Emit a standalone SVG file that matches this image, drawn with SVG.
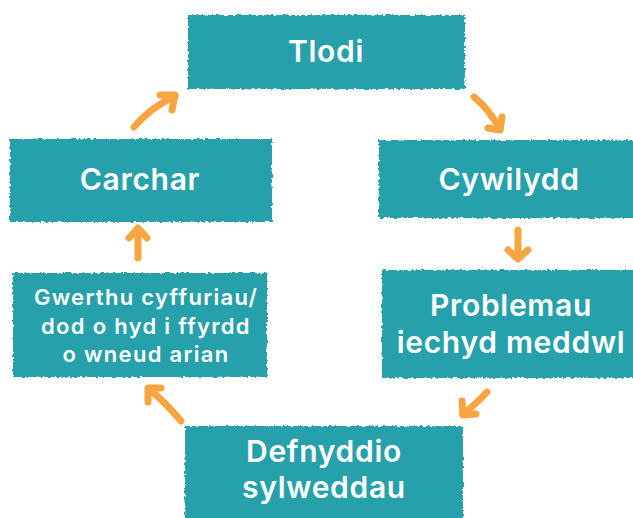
<svg xmlns="http://www.w3.org/2000/svg" width="633" height="518" viewBox="0 0 633 518">
<defs>
<filter id="rough" x="-5%" y="-10%" width="110%" height="120%">
<feTurbulence type="fractalNoise" baseFrequency="0.35" numOctaves="2" seed="3" result="n"/>
<feDisplacementMap in="SourceGraphic" in2="n" scale="4" xChannelSelector="R" yChannelSelector="G"/>
</filter>
</defs>
<style>
.box{fill:#27A1AC;filter:url(#rough)}
.t{fill:#ffffff;font-family:Inter,"Noto Sans",sans-serif;font-weight:600;text-anchor:middle}
.big{font-size:30px;letter-spacing:0.7px}
.sm{font-size:22px;letter-spacing:1.3px}
.arr{fill:none;stroke:#F7A540;stroke-width:7;stroke-linecap:round;stroke-linejoin:round}
</style>
<rect width="633" height="518" fill="#ffffff"/>
<g id="tlodi"><rect class="box" x="188" y="15" width="277" height="74"/><text class="t big" x="326" y="62">Tlodi</text></g>
<g id="cywilydd"><rect class="box" x="379" y="140" width="256" height="78"/><text class="t big" x="509" y="190">Cywilydd</text></g>
<g id="problemau"><rect class="box" x="382" y="270" width="253" height="108"/><text class="t big" x="511" y="316">Problemau</text><text class="t big" x="511" y="353">iechyd meddwl</text></g>
<g id="defnyddio"><rect class="box" x="185" y="426" width="278" height="95"/><text class="t big" x="324" y="462">Defnyddio</text><text class="t big" x="324" y="498">sylweddau</text></g>
<g id="gwerthu"><rect class="box" x="13" y="273" width="254" height="104"/><text class="t sm" x="146" y="305">Gwerthu cyffuriau/</text><text class="t sm" x="146" y="334">dod o hyd i ffyrdd</text><text class="t sm" x="146" y="362">o wneud arian</text></g>
<g id="carchar"><rect class="box" x="10" y="139" width="262" height="83"/><text class="t big" x="140" y="190">Carchar</text></g>
<g id="connectors">
<path class="arr" d="M134,127 Q150,108 175,96"/><path class="arr" d="M160,95 L175,95 L172,110"/>
<path class="arr" d="M474,97 Q488,108 500,129"/><path class="arr" d="M488,128 L500,130 L502,117"/>
<path class="arr" d="M518,230 L518,257"/><path class="arr" d="M508,250 L518,259 L528,250"/>
<path class="arr" d="M487,392 Q475,405 463,414"/><path class="arr" d="M462,401 L463,415 L476,414"/>
<path class="arr" d="M181,421 Q165,402 150,390"/><path class="arr" d="M148,402 L148,388 L161,388"/>
<path class="arr" d="M138,258 L138,230"/><path class="arr" d="M129,238 L138,228 L147,238"/>
</g>
</svg>
